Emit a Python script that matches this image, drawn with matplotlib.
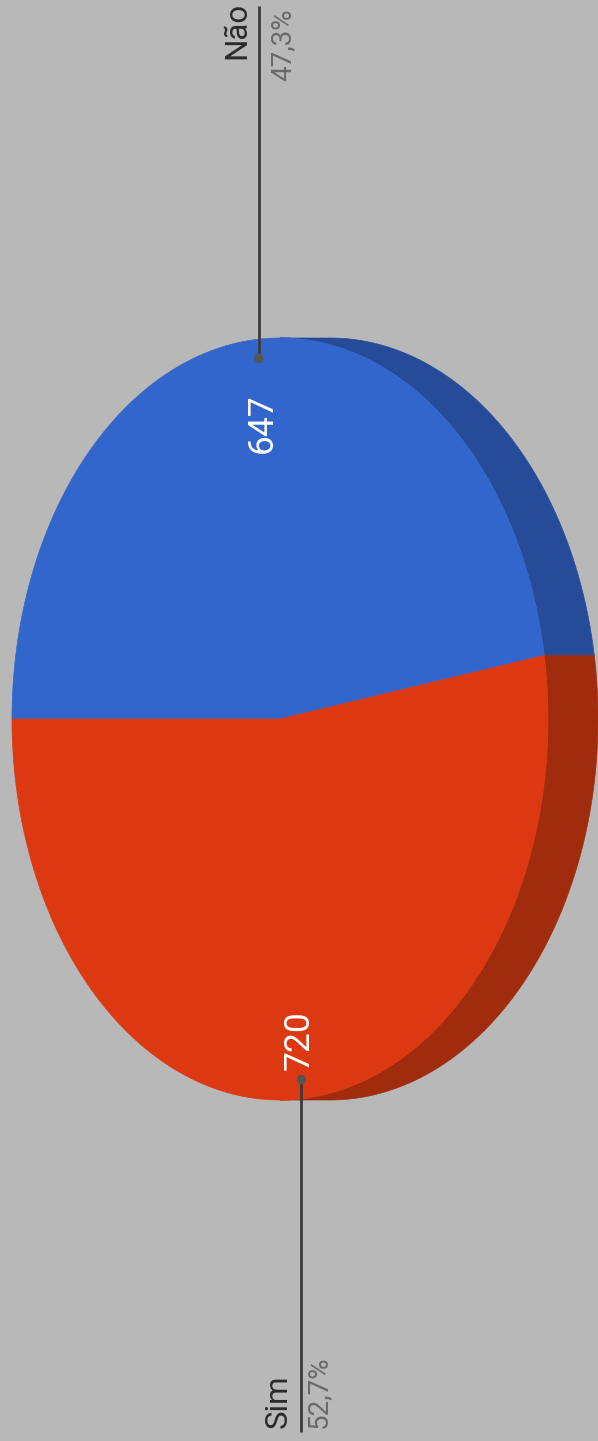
import numpy as np
import matplotlib
matplotlib.use("Agg")
import matplotlib.pyplot as plt
from matplotlib.patches import Polygon, Circle

# ---- data ----
categories = ["Não", "Sim"]
values = [647, 720]
top_colors = ["#3366CC", "#DC3912"]
side_colors = ["#264C99", "#A02B0D"]

# ---- layout (image pixel space, chart rotated 90° CCW) ----
W, H = 598, 1441
cx, cy = 280, 719
A, B = 381, 268      # semi-axis along image y, image x
depth = 50
bg = "#B8B8B8"

fig = plt.figure(figsize=(W / 100, H / 100), dpi=100)
fig.patch.set_facecolor(bg)
ax = fig.add_axes([0, 0, 1, 1])
ax.set_xlim(0, W)
ax.set_ylim(H, 0)
ax.axis("off")
ax.set_facecolor(bg)


def pt(theta_deg, r=1.0):
    t = np.radians(theta_deg)
    return cx - np.cos(t) * B * r, cy - np.sin(t) * A * r


total = sum(values)
fracs = [v / total for v in values]
starts = np.concatenate([[0], np.cumsum(fracs)[:-1]]) * 360
ends = np.cumsum(fracs) * 360

# sides
for s, e, col in zip(starts, ends, side_colors):
    a0, a1 = max(s, 90), min(e, 270)
    if a1 <= a0:
        continue
    th = np.linspace(a0, a1, 200)
    xs, ys = pt(th)
    poly = np.vstack([np.column_stack([xs, ys]),
                      np.column_stack([xs[::-1] + depth, ys[::-1]])])
    ax.add_patch(Polygon(poly, closed=True, facecolor=col, edgecolor=col, lw=0.5))

# top faces
for s, e, col in zip(starts, ends, top_colors):
    th = np.linspace(s, e, 300)
    xs, ys = pt(th)
    poly = np.vstack([[cx, cy], np.column_stack([xs, ys])])
    ax.add_patch(Polygon(poly, closed=True, facecolor=col, edgecolor=col, lw=0.5))

# value labels and leaders
label_r = [0.78, 0.845]
dot_r = 0.95
label_font = ["Roboto", "DejaVu Sans"]
text_pos = {  # (name_x, pct_x, line_end_y, anchor)
    0: (237, 283, 6, "top"),
    1: (278, 318, 1432, "bottom"),
}
name_end = {0: 2, 1: 1428}
pct_end = {0: 8, 1: 1428}

for i, (s, e) in enumerate(zip(starts, ends)):
    mid = (s + e) / 2
    vx, vy = pt(mid, label_r[i])
    ax.text(vx, vy, str(values[i]), color="white", fontsize=25.5, rotation=90,
            ha="center", va="center", family=label_font)
    dx, dy = pt(mid, dot_r)
    nx, px, ly, anchor = text_pos[i]
    ax.plot([dx, dx], [dy, ly], color="#3a3a3a", lw=2.0, solid_capstyle="butt", zorder=5)
    ax.add_patch(Circle((dx, dy), 4, color="#555555", zorder=6))
    ax.text(nx, name_end[i], categories[i], color="#2a2a2a", fontsize=22.5, rotation=90,
            ha="center", va=anchor, family=label_font)
    pct = f"{fracs[i] * 100:.1f}%".replace(".", ",")
    ax.text(px, pct_end[i], pct, color="#6a6a6a", fontsize=20, rotation=90,
            ha="center", va=anchor, family=label_font)

fig.savefig("out.png", dpi=100, facecolor=bg)
